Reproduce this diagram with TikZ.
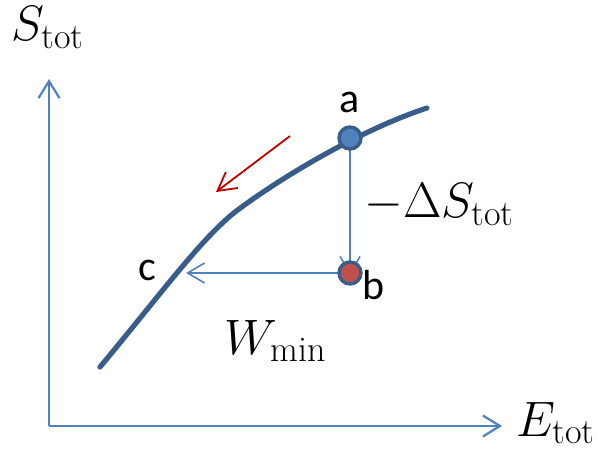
\documentclass[tikz,border=0pt]{standalone}
\usepackage{fontspec}
\newfontfamily\lblfont{Carlito}
\usepackage{tikz}
\usetikzlibrary{arrows.meta,positioning,calc}
\definecolor{axblue}{RGB}{79,129,189}
\definecolor{curveblue}{RGB}{56,93,138}
\definecolor{ptred}{RGB}{192,80,77}
\definecolor{arrred}{RGB}{192,0,0}
\DeclareMathSizes{23}{23}{18}{14}

\begin{document}
\begin{tikzpicture}[
  x=0.5pt, y=-0.5pt,
  axis/.style={-{Straight Barb[length=8.5pt,width=10.5pt]}, line width=1.1pt, draw=axblue},
  thinarr/.style={-{Straight Barb[length=8.5pt,width=10pt]}, line width=0.8pt, draw=axblue},
  curve/.style={line width=2.6pt, draw=curveblue, line cap=round},
  dot/.style={circle, draw=curveblue, line width=1.7pt, minimum size=11pt, inner sep=0pt},
  lbl/.style={font=\lblfont\fontsize{21}{25}\selectfont, inner sep=0pt},
  mlbl/.style={font=\fontsize{23}{27}\selectfont, inner sep=0pt}
]
\useasboundingbox (0,0) rectangle (597,448);

% axes
\coordinate (O) at (49,426);
\coordinate (ytop) at (49,79);
\coordinate (xend) at (502,426);
\draw[axis] (O) -- (ytop);
\draw[axis] (O) -- (xend);
\node[mlbl, anchor=base west] (slbl) at (11,41) {$S_{\mathrm{tot}}$};
\node[mlbl, anchor=base west] (elbl) at (516,436) {$E_{\mathrm{tot}}$};

% states
\coordinate (pa) at (350,138);
\coordinate (pb) at (350,273);
\coordinate (c) at (186,273);

% S(E) curve
\draw[curve] (100,367) .. controls (160,295) and (200,240) .. (235,212)
  .. controls (280,178) and (360,130) .. (427,108);

% paths
\draw[thinarr, shorten >=-1pt] (pa) -- (pb);
\draw[thinarr] (pb) -- (c);
\coordinate (rs) at (290,136);
\coordinate (re) at (216,192);
\draw[-{Straight Barb[length=9pt,width=10pt]}, line width=0.9pt, draw=arrred] (rs) -- (re);

\node[dot, fill=axblue] (a) at (pa) {};
\node[dot, fill=ptred] (b) at (pb) {};

% labels
\node[lbl, above=6pt of a] (alab) {a};
\node[lbl, anchor=west] (blab) at (362,285) {b};
\node[lbl] (clab) at (147,270) {c};
\node[mlbl, anchor=base west] (dslab) at (364,218) {$-\Delta S_{\mathrm{tot}}$};
\node[mlbl, anchor=base west] (wlab) at (224,354) {$W_{\min}$};
\end{tikzpicture}
\end{document}
